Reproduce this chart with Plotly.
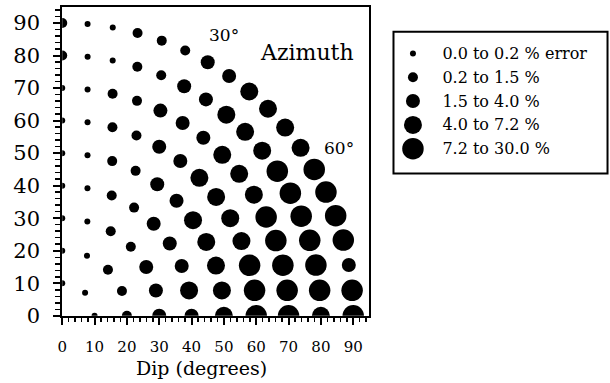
import numpy as np
import plotly.graph_objects as go

# ---------------- data ----------------
# Each ring = one dip value; points along the ring = azimuths (deg, from vertical)
dip_rings = [90, 80, 70, 60, 50, 40, 30, 20, 10]

az_90 = [0, 5, 10, 15, 20, 25, 30, 35, 40, 45, 50, 55, 60, 65, 70, 75, 80, 85, 90]
az_80 = [0, 5.63, 11.25, 16.88, 22.5, 28.13, 33.75, 39.38, 45, 50.63, 56.25, 61.88,
         67.5, 73.13, 78.75, 84.38, 90]
az_70 = [0, 6.43, 12.86, 19.29, 25.71, 32.14, 38.57, 45, 51.43, 57.86, 64.29, 70.71,
         77.14, 83.57, 90]
az_60 = [0, 7.5, 15, 22.5, 30, 37.5, 45, 52.5, 60, 67.5, 75, 82.5, 90]
az_50 = [0, 9, 18, 27, 36, 45, 54, 63, 72, 81, 90]
az_40 = [0, 11.25, 22.5, 33.75, 45, 56.25, 67.5, 78.75, 90]
az_30 = [0, 15, 30, 45, 60, 75, 90]
az_20 = [0, 22.5, 45, 67.5, 90]
az_10 = [0, 45, 90]

# error class (1..5) of each point, same order as the azimuth lists
cls_90 = [2, 1, 1, 2, 2, 2, 3, 3, 4, 4, 4, 4, 5, 5, 5, 5, 3, 5, 5]
cls_80 = [2, 1, 1, 2, 2, 3, 3, 4, 4, 4, 5, 5, 5, 5, 5, 5, 4]
cls_70 = [1, 1, 2, 2, 3, 3, 3, 4, 4, 4, 5, 5, 5, 5, 5]
cls_60 = [1, 1, 2, 2, 3, 3, 4, 4, 4, 4, 5, 5, 5]
cls_50 = [1, 1, 2, 2, 3, 3, 4, 4, 4, 4, 4]
cls_40 = [1, 1, 2, 2, 3, 3, 3, 4, 3]
cls_30 = [1, 1, 2, 2, 3, 3, 3]
cls_20 = [1, 1, 2, 2, 2]
cls_10 = [1, 1, 1]

class_labels = ["0.0 to 0.2 % error", "0.2 to 1.5 %", "1.5 to 4.0 %",
                "4.0 to 7.2 %", "7.2 to 30.0 %"]
tick_values = [0, 10, 20, 30, 40, 50, 60, 70, 80, 90]
azimuth_labels = ["30°", "60°"]

# ---------------- style ----------------
SIZES = [6, 10, 14, 18, 21.5]
W, H = 610, 383          # reference picture size (layout positions are given in it)
FIG_H = 396              # figure height (the page is shown slightly squeezed vertically)
FONT = "DejaVu Serif"

az_lists = [az_90, az_80, az_70, az_60, az_50, az_40, az_30, az_20, az_10]
cls_lists = [cls_90, cls_80, cls_70, cls_60, cls_50, cls_40, cls_30, cls_20, cls_10]

dips, azs, cls = [], [], []
for d, a, c in zip(dip_rings, az_lists, cls_lists):
    dips += [d] * len(a)
    azs += a
    cls += c
dips = np.array(dips, dtype=float)
azr = np.radians(np.array(azs, dtype=float))
px = dips * np.sin(azr)   # polar projection: radius = dip, angle = azimuth
py = dips * np.cos(azr)

fig = go.Figure()
fig.add_trace(go.Scatter(
    x=px, y=py, mode="markers",
    marker=dict(size=[SIZES[c - 1] for c in cls], color="black", opacity=1,
                line=dict(width=0)),
    showlegend=False, cliponaxis=True, hoverinfo="skip",
))
# legend built as a tiny categorical chart
fig.add_trace(go.Scatter(
    x=[0] * len(class_labels), y=class_labels, mode="markers",
    marker=dict(size=SIZES, color="black", opacity=1, line=dict(width=0)),
    xaxis="x2", yaxis="y2", showlegend=False, cliponaxis=False, hoverinfo="skip",
))

def fx(p):
    return p / W

def fy(p):
    return 1 - p / H

fig.update_layout(
    width=W, height=FIG_H, autosize=False, margin=dict(l=0, r=0, t=0, b=0),
    paper_bgcolor="white", plot_bgcolor="white",
    font=dict(family=FONT, color="black"),
    xaxis=dict(
        domain=[fx(57.7), fx(367.4)], range=[0, 95], anchor="y",
        tickmode="array", tickvals=tick_values,
        ticks="outside", ticklen=7, tickwidth=2, tickcolor="black",
        minor=dict(ticks="outside", ticklen=4, tickwidth=1.5, dtick=2, tick0=0, tickcolor="black"),
        showline=True, linewidth=2, linecolor="black", mirror=True,
        showgrid=False, zeroline=False,
        tickfont=dict(size=15, family=FONT), ticklabelstandoff=9,
    ),
    yaxis=dict(
        domain=[fy(315), fy(6.7)], range=[0, 95], anchor="x",
        tickmode="array", tickvals=tick_values,
        ticks="outside", ticklen=7, tickwidth=2, tickcolor="black",
        minor=dict(ticks="outside", ticklen=5, tickwidth=1.5, dtick=2, tick0=0, tickcolor="black"),
        showline=True, linewidth=2, linecolor="black", mirror=True,
        showgrid=False, zeroline=False,
        tickfont=dict(size=21, family=FONT), ticklabelstandoff=9,
    ),
    xaxis2=dict(
        domain=[fx(398), fx(438)], range=[-1, 2], anchor="y2",
        visible=False, fixedrange=True,
    ),
    yaxis2=dict(
        domain=[fy(160.2), fy(41.4)], anchor="x2", side="right",
        type="category", categoryorder="array", categoryarray=class_labels,
        range=[len(class_labels) - 0.5, -0.5],
        showline=False, ticks="", showgrid=False, zeroline=False,
        tickfont=dict(size=16, family=FONT), ticklabelstandoff=2,
    ),
    shapes=[dict(type="rect", xref="paper", yref="paper",
                 x0=fx(391.7), x1=fx(607.5), y0=fy(173), y1=fy(31.7),
                 line=dict(color="black", width=2), fillcolor="rgba(0,0,0,0)")],
    annotations=[
        dict(text="Azimuth", x=75.6, y=81, xref="x", yref="y", showarrow=False,
             font=dict(size=22, family=FONT), xanchor="center", yanchor="middle"),
        dict(text=azimuth_labels[0], x=49.9, y=86.4, xref="x", yref="y", showarrow=False,
             font=dict(size=17, family=FONT), xanchor="center", yanchor="middle"),
        dict(text=azimuth_labels[1], x=85.5, y=51.5, xref="x", yref="y", showarrow=False,
             font=dict(size=17, family=FONT), xanchor="center", yanchor="middle"),
        dict(text="Dip (degrees)", x=fx(198.5), y=fy(367), xref="paper", yref="paper",
             showarrow=False, font=dict(size=19, family=FONT),
             xanchor="center", yanchor="middle"),
    ],
)

fig.write_html(
    "out.html",
    config={"displayModeBar": False, "responsive": False, "staticPlot": True},
    post_script="document.body.style.margin='0px';document.body.style.overflow='hidden';",
)
